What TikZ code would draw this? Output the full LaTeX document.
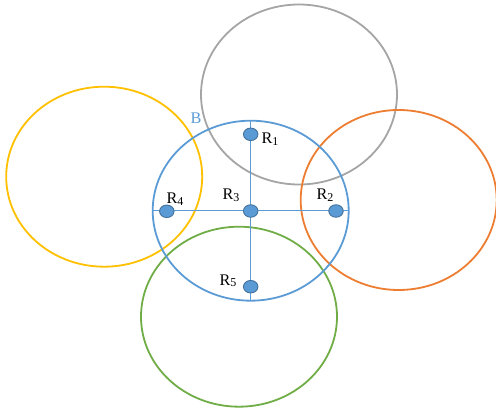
\documentclass[tikz,border=0pt]{standalone}
\usepackage{fontspec}
\setmainfont{Liberation Serif}
\usetikzlibrary{shapes.geometric}
\definecolor{cblue}{HTML}{5B9BD5}
\definecolor{cdot}{HTML}{41719C}
\definecolor{cgray}{HTML}{A5A5A5}
\definecolor{cyellow}{HTML}{FFC000}
\definecolor{corange}{HTML}{ED7D31}
\definecolor{cgreen}{HTML}{70AD47}
\tikzset{
  ring/.style={ellipse, draw=#1, line width=1.8pt, inner sep=0pt, outer sep=0pt,
    minimum width=196pt, minimum height=180pt},
  dot/.style={ellipse, draw=cdot, line width=0.9pt, fill=cblue, inner sep=0pt,
    minimum width=14.5pt, minimum height=12.5pt},
  lab/.style={anchor=base west, inner sep=0pt, font=\fontsize{16.2}{19}\selectfont},
  axis/.style={draw=cblue, line width=0.9pt}
}
\newcommand{\rlab}[1]{R\raisebox{-0.25ex}{\fontsize{12}{14}\selectfont #1}}
\begin{document}
\begin{tikzpicture}[x=1pt,y=-1pt]
\useasboundingbox (0,0) rectangle (496,409);
\node[ring=cgray]   (G) at (299,94.5) {};
\node[ring=cyellow] (Y) at (104.2,176.7) {};
\node[ring=corange] (O) at (398.7,200) {};
\node[ring=cgreen]  (Gr) at (239,316.7) {};
\node[ring=cblue]   (B) at (250.7,210.7) {};
\draw[axis] (B.west) -- (B.east);
\draw[axis] (B.north) -- (B.south);
\node[dot] (r1) at (250.7,134.3) {};
\node[dot] (r2) at (336,211) {};
\node[dot] (r3) at (250.7,211) {};
\node[dot] (r4) at (166.8,211.3) {};
\node[dot] (r5) at (250.7,286.7) {};
\node[lab, text=cblue] (lB) at (190.3,123.5) {B};
\node[lab] (l1) at (261.3,143.5) {\rlab{1}};
\node[lab] (l2) at (316.3,199.5) {\rlab{2}};
\node[lab] (l3) at (222.3,200) {\rlab{3}};
\node[lab] (l4) at (166.3,203.5) {\rlab{4}};
\node[lab] (l5) at (219.3,285) {\rlab{5}};
\end{tikzpicture}
\end{document}
